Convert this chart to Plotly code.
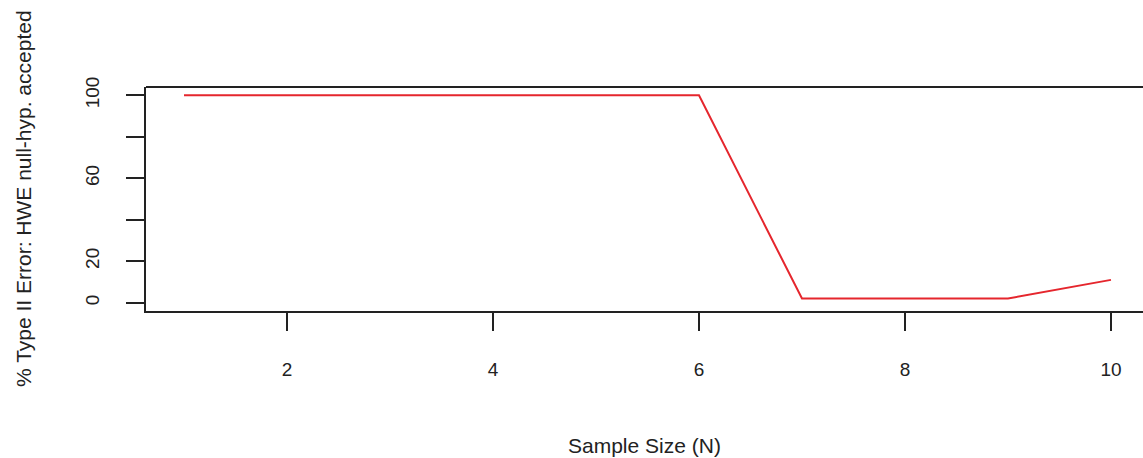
import plotly.graph_objects as go

sample_size = [1, 2, 3, 4, 5, 6, 7, 8, 9, 10]
type2_error = [100, 100, 100, 100, 100, 100, 2, 2, 2, 11]

x_ticks = [2, 4, 6, 8, 10]
y_tick_vals = [0, 20, 40, 60, 80, 100]
y_tick_text = ["0", "20", "", "60", "", "100"]

font = dict(family="Liberation Sans, Arial, sans-serif", size=19, color="#222222")
title_font = dict(family="Liberation Sans, Arial, sans-serif", size=21, color="#222222")

fig = go.Figure()
fig.add_trace(go.Scatter(
    x=sample_size, y=type2_error, mode="lines",
    line=dict(color="#e5262d", width=2), showlegend=False,
))

fig.update_layout(
    width=1143, height=458,
    margin=dict(l=146, r=0, t=87, b=147, autoexpand=False),
    paper_bgcolor="white", plot_bgcolor="white",
    font=font,
    xaxis=dict(
        range=[0.631, 10.311], tickvals=x_ticks, ticktext=[str(v) for v in x_ticks],
        tickfont=font, automargin=False,
        ticks="outside", ticklen=18, tickwidth=2, tickcolor="#222222",
        showline=True, linecolor="#222222", linewidth=2,
        showgrid=False, zeroline=False, ticklabelstandoff=22,
    ),
    yaxis=dict(
        range=[-4, 104], tickvals=y_tick_vals, ticktext=y_tick_text,
        tickangle=-90, tickfont=font, automargin=False,
        ticks="outside", ticklen=18, tickwidth=2, tickcolor="#222222",
        showline=True, linecolor="#222222", linewidth=2,
        showgrid=False, zeroline=False, ticklabelstandoff=19,
    ),
    annotations=[
        dict(text="Sample Size (N)", xref="paper", yref="paper",
             x=0.5, y=0, yshift=-134, xanchor="center", yanchor="middle",
             showarrow=False, font=title_font),
        dict(text="% Type II Error: HWE null-hyp. accepted", xref="paper", yref="paper",
             x=0, y=0.5, xshift=-123, yshift=0, xanchor="center", yanchor="middle",
             textangle=-90, showarrow=False, font=title_font),
    ],
)

# top border of the box (right border lies outside the visible window)
fig.add_shape(type="line", xref="paper", yref="paper", x0=0, x1=1, y0=1, y1=1,
              line=dict(color="#222222", width=2))

fig.write_html("out.html", config={"displayModeBar": False},
               post_script="document.body.style.margin='0';")
